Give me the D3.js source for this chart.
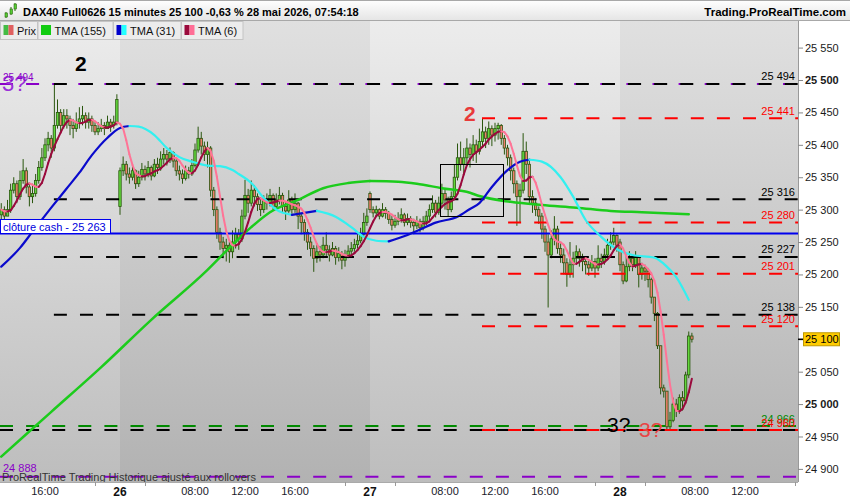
<!DOCTYPE html>
<html><head><meta charset="utf-8">
<script src="https://cdn.jsdelivr.net/npm/d3@7"></script>
<style>body{margin:0;background:#fff} svg{display:block;font-family:"Liberation Sans",Arial,sans-serif}</style>
</head><body>
<svg id="c" width="850" height="500"></svg>
<script>
// ---------- DATA ----------
const closes = [
25300,25290,25300,25330,25340,25320,25345,25360,25335,25320,25325,25345,25365,25380,25400,25410,25395,25430,25450,25430,25445,25440,25430,25425,25435,25440,25445,25435,25440,25430,25420,25425,25430,25425,25435,25430,25435,25470,
25360,25370,25355,25350,25360,25340,25350,25362,25355,25365,
25352,25370,25365,25378,25385,25378,25388,25375,25360,25355,
25348,25360,25355,25368,25392,25410,25398,25385,25395,25330,
25300,25265,25250,25240,25245,25235,25250,25262,25255,25290,
25322,25310,25330,25320,25308,25300,25315,25310,25322,25305,
25315,25322,25305,25298,25315,25300,25310,25290,25280,25265,
25250,25240,25225,25235,25230,25245,25238,25230,25240,25226,
25232,25222,25228,25236,25240,25246,25252,25262,25280,25290,
25300,25295,25300,25290,25300,25294,25285,25276,25282,25286,
25292,25280,25286,25280,25275,25282,25272,25282,25290,25300,
25310,25296,25310,25325,25315,25300,25320,25350,25380,25370,
25380,25395,25385,25400,25390,25405,25420,25410,25425,25415,
25425,25430,25410,25395,25380,25360,25340,25320,25330,25390,
25370,25320,25310,25300,25290,25270,25250,25230,25255,25270,
25240,25230,25218,25200,25215,25225,25235,25225,25220,25215,
25210,25220,25210,25225,25220,25230,25245,25250,25260,25245,
25215,25190,25212,25225,25215,25226,25200,25210,25205,25192,
25165,25140,25090,25025,25020,24965,24975,25000,24990,25010,
25005,25045,25105,25100];
const highs = [
25310,25305,25315,25340,25350,25345,25360,25378,25365,25340,25340,25355,25375,25395,25410,25420,25415,25494,25470,25455,25455,25455,25445,25440,25450,25458,25460,25450,25450,25445,25435,25435,25440,25435,25445,25440,25445,25478,
25365,25382,25375,25365,25370,25362,25360,25372,25368,25375,
25368,25378,25380,25390,25395,25392,25396,25390,25378,25368,
25362,25368,25366,25378,25402,25428,25420,25405,25405,25398,
25335,25305,25272,25258,25255,25250,25268,25272,25270,25300,
25346,25332,25345,25338,25325,25318,25322,25325,25332,25325,
25325,25335,25326,25312,25330,25320,25325,25312,25295,25285,
25270,25258,25245,25248,25244,25258,25265,25245,25250,25244,
25242,25236,25238,25245,25250,25255,25262,25272,25295,25302,
25328,25305,25306,25302,25310,25304,25298,25290,25292,25296,
25302,25295,25294,25290,25286,25290,25286,25290,25298,25308,
25322,25315,25320,25340,25332,25320,25328,25370,25402,25405,
25395,25410,25402,25415,25408,25425,25440,25428,25436,25430,
25434,25434,25432,25415,25400,25385,25365,25345,25340,25418,
25405,25375,25330,25318,25305,25295,25275,25262,25268,25290,
25275,25248,25240,25225,25250,25235,25245,25240,25232,25228,
25222,25230,25225,25245,25232,25240,25255,25265,25272,25262,
25255,25220,25232,25236,25230,25236,25228,25218,25215,25210,
25195,25160,25142,25090,25030,25005,24988,25010,25008,25015,
25020,25050,25112,25110];
const lows = [
25285,25280,25290,25295,25325,25310,25315,25340,25325,25305,25310,25320,25340,25360,25375,25390,25380,25390,25425,25420,25425,25425,25415,25410,25420,25425,25430,25425,25425,25420,25415,25415,25420,25415,25425,25420,25425,25430,
25292,25352,25345,25340,25345,25332,25335,25345,25345,25350,
25345,25350,25355,25360,25370,25368,25372,25365,25352,25345,
25340,25345,25348,25352,25365,25388,25385,25375,25365,25320,
25290,25255,25238,25225,25220,25218,25225,25240,25238,25250,
25285,25295,25305,25305,25298,25290,25295,25300,25305,25298,
25300,25308,25295,25284,25295,25292,25295,25270,25262,25252,
25238,25228,25204,25218,25220,25225,25228,25220,25228,25215,
25220,25208,25212,25225,25230,25235,25240,25248,25258,25275,
25295,25288,25290,25285,25288,25286,25278,25268,25272,25276,
25280,25274,25276,25272,25262,25270,25265,25268,25276,25284,
25295,25288,25292,25305,25300,25290,25296,25315,25345,25360,
25355,25370,25365,25375,25372,25385,25395,25395,25400,25398,
25405,25408,25400,25385,25368,25345,25325,25275,25280,25325,
25355,25310,25295,25290,25278,25255,25235,25149,25225,25245,
25232,25218,25200,25181,25195,25195,25215,25212,25205,25200,
25198,25205,25195,25205,25210,25215,25225,25238,25245,25235,
25205,25185,25188,25205,25205,25210,25180,25192,25190,25180,
25155,25128,25085,25015,25010,24960,24960,24972,24980,24985,
24990,25000,25040,25095];
const firstOpen = 25292;
const gapOpenBars = [38, 118, 198];
const gapOpenValues = [25305, 25325, 25250];

// moving averages: [bar index, value]
const tma155 = [[0,24919],[16,24988],[32,25057],[48,25130],[66,25207],[73,25241],[80,25273],[86,25296],[95,25315],[103,25333],[111,25341],[118,25344],[127,25343],[133,25340],[141,25333],[150,25326],[153,25321],[163,25312],[173,25307],[184,25303],[195,25298],[205,25296],[220,25293]];
const tma31 = [[0,25212],[6,25241],[10,25266],[16,25303],[21,25333],[25,25357],[29,25384],[34,25411],[38,25426],[41,25429],[44,25428],[49,25415],[53,25395],[57,25381],[61,25374],[66,25368],[70,25367],[74,25361],[76,25355],[80,25341],[84,25318],[88,25300],[93,25292],[101,25298],[107,25289],[112,25273],[116,25258],[120,25252],[124,25251],[130,25261],[133,25267],[139,25280],[146,25289],[150,25301],[153,25310],[157,25335],[162,25361],[166,25374],[169,25377],[173,25374],[179,25350],[183,25320],[187,25284],[192,25258],[196,25242],[202,25230],[209,25226],[213,25212],[216,25196],[220,25161]];

const dayStartBars = [38, 118, 198];
const dayLabels = ["26", "27", "28"];
const timeBars = [14, 62, 78, 94, 142, 158, 174, 222, 238];
const timeLabels = ["16:00","08:00","12:00","16:00","08:00","12:00","16:00","08:00","12:00"];
const minorTickBars = [30, 46, 110, 126, 190, 206, 254];
const yTicks = [24900,24950,25000,25050,25100,25150,25200,25250,25300,25350,25400,25450,25500,25550];
const yBold = [25000, 25500];
const lastPrice = 25100;
const lastPriceLabel = "25 100";

const levelValues = [25494, 25494, 25441, 25316, 25280, 25227, 25201, 25138, 25120, 24966, 24960, 24960, 24888];
const levelColors = ["#8a00c8","#000000","#ff0000","#000000","#ff0000","#000000","#ff0000","#000000","#ff0000","#008a00","#000000","#ff0000","#8a00c8"];
const levelStartBars = [0, 17, 154, 17, 154, 17, 154, 17, 154, 0, 0, 154, 0];
const levelLabels = ["", "25 494", "25 441", "25 316", "25 280", "25 227", "25 201", "25 138", "25 120", "24 966", "", "24 960", ""];
const cashClose = 25263;

// ---------- LAYOUT ----------
const svg = d3.select("#c");
const plotR = 798, plotT = 21, plotB = 482;
const x = d3.scaleLinear().domain([0, 1]).range([1.25, 4.375]);
const y = d3.scaleLinear().domain([24900, 25500]).range([468.9, 80]);

const defs = svg.append("defs");
function grad(id, c1, c2){
  const g = defs.append("linearGradient").attr("id", id).attr("x1",0).attr("y1",0).attr("x2",0).attr("y2",1);
  g.append("stop").attr("offset","0%").attr("stop-color",c1);
  g.append("stop").attr("offset","100%").attr("stop-color",c2);
}
grad("gLight", "#ececec", "#bdbdbd");
grad("gDark", "#e0e0e0", "#b2b2b2");
grad("gHead", "#ffffff", "#e4e4e4");
defs.append("clipPath").attr("id","clip").append("rect").attr("x",0).attr("y",plotT).attr("width",plotR).attr("height",plotB-plotT);

// day bands
const bandEdges = [0, ...dayStartBars.map(b => x(b)), plotR];
for (let k = 0; k < bandEdges.length - 1; k++) {
  svg.append("rect").attr("x", bandEdges[k]).attr("y", plotT).attr("width", bandEdges[k+1]-bandEdges[k]).attr("height", plotB-plotT)
    .attr("fill", k % 2 === 0 ? "url(#gLight)" : "url(#gDark)");
}

// header
svg.append("rect").attr("x",0).attr("y",0).attr("width",850).attr("height",21).attr("fill","url(#gHead)");
svg.append("line").attr("x1",0).attr("x2",850).attr("y1",0.5).attr("y2",0.5).attr("stroke","#a8a8a8");
svg.append("line").attr("x1",0).attr("x2",850).attr("y1",20.5).attr("y2",20.5).attr("stroke","#a8a8a8");
// icon
const icon = svg.append("g");
[[5,12,18,13,17],[10,7,15,9,14],[14,3,11,4,9]].forEach(([cx,t,b,bt,bb])=>{
  icon.append("line").attr("x1",cx+1).attr("x2",cx+1).attr("y1",t).attr("y2",b).attr("stroke","#2d6a10");
  icon.append("rect").attr("x",cx).attr("y",bt).attr("width",2.5).attr("height",bb-bt).attr("fill","#55cc33").attr("stroke","#2d6a10").attr("stroke-width",0.6);
});
svg.append("text").attr("x",23).attr("y",15.5).attr("font-size","11px").attr("font-weight","bold").attr("fill","#000")
  .text("DAX40 Full0626 15 minutes 25 100 -0,63 % 28 mai 2026, 07:54:18");
svg.append("text").attr("x",846).attr("y",15.5).attr("text-anchor","end").attr("font-size","11.5px").attr("font-weight","bold").attr("fill","#000")
  .text("Trading.ProRealTime.com");

// legend
const legendItems = [
  {x:0, w:37, label:"Prix", c1:"#44bb44", c2:"#e06060"},
  {x:37.5, w:75, label:"TMA (155)", c1:"#11cc11", c2:"#11cc11"},
  {x:113, w:67.5, label:"TMA (31)", c1:"#0000cc", c2:"#22ffff"},
  {x:181, w:61.5, label:"TMA (6)", c1:"#9a0a3c", c2:"#ff6e96"}];
legendItems.forEach(d=>{
  svg.append("rect").attr("x",d.x+0.5).attr("y",21.5).attr("width",d.w).attr("height",18).attr("fill","#ececec").attr("stroke","#c4c4c4");
  svg.append("rect").attr("x",d.x+3.5).attr("y",25).attr("width",5).attr("height",10).attr("fill",d.c1);
  svg.append("rect").attr("x",d.x+8.5).attr("y",25).attr("width",5).attr("height",10).attr("fill",d.c2);
  svg.append("text").attr("x",d.x+17).attr("y",34.5).attr("font-size","11px").attr("fill","#111").text(d.label);
});

const plot = svg.append("g").attr("clip-path","url(#clip)");

// candles
const opens = closes.map((c,i)=>{
  const g = gapOpenBars.indexOf(i);
  if (g >= 0) return gapOpenValues[g];
  return i === 0 ? firstOpen : closes[i-1];
});
const cg = plot.append("g");
closes.forEach((c,i)=>{
  const o = opens[i];
  const hi = Math.max(highs[i], o, c), lo = Math.min(lows[i], o, c);
  cg.append("line").attr("x1",x(i)).attr("x2",x(i)).attr("y1",y(hi)).attr("y2",y(lo)).attr("stroke","#2a560e").attr("stroke-width",1);
  const top = y(Math.max(o,c)), bot = y(Math.min(o,c));
  cg.append("rect").attr("x",x(i)-1.2).attr("y",top).attr("width",2.4).attr("height",Math.max(1,bot-top))
    .attr("fill", c >= o ? "#62d83c" : "#f07e6c").attr("stroke","#2a560e").attr("stroke-width",0.8);
});

// horizontal levels
levelValues.forEach((v,k)=>{
  const x0 = levelStartBars[k] === 0 ? 0 : x(levelStartBars[k]) - 0.5;
  plot.append("line").attr("x1",x0).attr("x2",plotR).attr("y1",y(v)).attr("y2",y(v))
    .attr("stroke",levelColors[k]).attr("stroke-width",2).attr("stroke-dasharray","13,13.1");
  if (levelLabels[k]) {
    svg.append("text").attr("x",795).attr("y",y(v)-3.5).attr("text-anchor","end").attr("font-size","11px")
      .attr("fill",levelColors[k]).text(levelLabels[k]);
  }
});
// cash close line
plot.append("line").attr("x1",0).attr("x2",plotR).attr("y1",y(cashClose)).attr("y2",y(cashClose)).attr("stroke","#0000ee").attr("stroke-width",2);

// moving averages
function drawRuns(points, upColor, downColor, width){
  let runs = [], cur = [points[0]], dir = 0;
  for (let k = 1; k < points.length; k++) {
    const d = Math.sign(points[k][1] - points[k-1][1]);
    if (dir === 0) dir = d;
    else if (d !== 0 && d !== dir) { runs.push({dir, pts:cur}); cur = [points[k-1]]; dir = d; }
    cur.push(points[k]);
  }
  runs.push({dir, pts:cur});
  const line = d3.line().x(p=>x(p[0])).y(p=>y(p[1])).curve(d3.curveMonotoneX);
  runs.forEach(r=>{
    plot.append("path").attr("d", line(r.pts)).attr("fill","none")
      .attr("stroke", r.dir >= 0 ? upColor : downColor).attr("stroke-width", width).attr("stroke-linecap","round");
  });
}
drawRuns(tma155, "#1ccc1c", "#1ccc1c", 2.5);
drawRuns(tma31, "#0a0acc", "#33f0f0", 2.2);

// TMA(6) computed from closes
const sma4 = closes.map((c,i)=> d3.mean(closes.slice(Math.max(0,i-3), i+1)));
const tma6 = sma4.map((c,i)=> d3.mean(sma4.slice(Math.max(0,i-2), i+1)));
for (let i = 1; i < tma6.length; i++) {
  plot.append("line").attr("x1",x(i-1)).attr("x2",x(i)).attr("y1",y(tma6[i-1])).attr("y2",y(tma6[i]))
    .attr("stroke", tma6[i] >= tma6[i-1] ? "#9a0a3c" : "#ff7496").attr("stroke-width",2).attr("stroke-linecap","round");
}

// box drawing
svg.append("rect").attr("x",440.5).attr("y",164.5).attr("width",63).attr("height",52).attr("fill","none").attr("stroke","#000").attr("stroke-width",1);

// annotations
svg.append("text").attr("x",75).attr("y",71).attr("font-size","21px").attr("font-weight","bold").attr("fill","#000").text("2");
svg.append("text").attr("x",464).attr("y",121).attr("font-size","21px").attr("font-weight","bold").attr("fill","#e83a3a").text("2");
svg.append("text").attr("x",607).attr("y",432).attr("font-size","21px").attr("fill","#000").text("3?");
svg.append("text").attr("x",639).attr("y",437).attr("font-size","21px").attr("fill","#e84545").text("3?");
svg.append("text").attr("x",2).attr("y",91).attr("font-size","22px").attr("fill","#9a30d8").text("3?");
svg.append("text").attr("x",3).attr("y",81).attr("font-size","10px").attr("fill","#8a00c8").text("25 494");
svg.append("text").attr("x",3).attr("y",472).attr("font-size","11px").attr("fill","#8a00c8").text("24 888");
svg.append("text").attr("x",2).attr("y",480.5).attr("font-size","11px").attr("fill","#333").text("ProRealTime Trading  Historique ajusté aux rollovers");

// cash label
svg.append("rect").attr("x",0.5).attr("y",219.5).attr("width",110).attr("height",14).attr("fill","#fff").attr("stroke","#0000ee");
svg.append("text").attr("x",3).attr("y",230.5).attr("font-size","11px").attr("fill","#0000dd").text("clôture cash -  25 263");

// right axis
svg.append("rect").attr("x",plotR).attr("y",plotT).attr("width",850-plotR).attr("height",plotB-plotT).attr("fill","#fff");
svg.append("line").attr("x1",plotR+0.5).attr("x2",plotR+0.5).attr("y1",plotT).attr("y2",plotB).attr("stroke","#999");
const fmt = v => String(v).replace(/(\d\d)(\d\d\d)$/, "$1 $2");
const yAxis = d3.axisRight(y).tickValues(yTicks).tickSize(5).tickFormat(fmt);
const ya = svg.append("g").attr("transform",`translate(${plotR},0)`).call(yAxis);
ya.select(".domain").remove();
ya.selectAll(".tick line").attr("stroke","#888");
ya.selectAll(".tick text").attr("x",7).attr("font-size","11px").attr("font-family","'Liberation Sans',Arial,sans-serif").attr("fill","#1a1a1a")
  .attr("font-weight", d => yBold.includes(d) ? "bold" : "normal")
  .attr("opacity", d => d === lastPrice ? 0 : 1);
// last price box
svg.append("line").attr("x1",plotR).attr("x2",plotR+5).attr("y1",y(lastPrice)).attr("y2",y(lastPrice)).attr("stroke","#000").attr("stroke-width",1.5);
svg.append("rect").attr("x",803.5).attr("y",y(lastPrice)-6.5).attr("width",36).attr("height",13).attr("fill","#ffcc00").attr("stroke","#c09a00");
svg.append("text").attr("x",805).attr("y",y(lastPrice)+4).attr("font-size","11px").attr("fill","#000").text(lastPriceLabel);

// bottom axis
svg.append("rect").attr("x",0).attr("y",plotB).attr("width",850).attr("height",500-plotB).attr("fill","#fff");
svg.append("line").attr("x1",0).attr("x2",plotR).attr("y1",plotB+0.5).attr("y2",plotB+0.5).attr("stroke","#aaa");
const xa = svg.append("g").attr("transform",`translate(0,${plotB})`)
  .call(d3.axisBottom(x).tickValues(minorTickBars).tickSize(4).tickFormat(""));
xa.select(".domain").remove();
xa.selectAll(".tick line").attr("stroke","#999");
timeBars.forEach((b,k)=>{
  svg.append("text").attr("x",x(b)).attr("y",495).attr("text-anchor","middle").attr("font-size","11px").attr("fill","#1a1a2a").text(timeLabels[k]);
});
dayStartBars.forEach((b,k)=>{
  svg.append("text").attr("x",x(b)).attr("y",495.5).attr("text-anchor","middle").attr("font-size","12px").attr("font-weight","bold").attr("fill","#111").text(dayLabels[k]);
});
</script>
</body></html>
